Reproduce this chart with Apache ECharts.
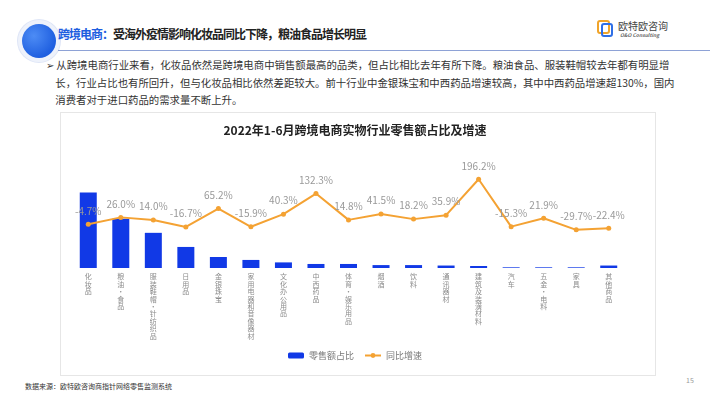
<!DOCTYPE html>
<html>
<head>
<meta charset="utf-8">
<script src="https://cdn.jsdelivr.net/npm/echarts@6/dist/echarts.min.js"></script>
<style>
  html, body { margin: 0; padding: 0; background: #fff; }
  body { width: 710px; height: 399px; position: relative; overflow: hidden; font-family: "Noto Sans CJK SC", "Noto Sans", sans-serif; }
  .abs { position: absolute; white-space: nowrap; }
  #ring { left: 18px; top: 20px; width: 42px; height: 42px; border-radius: 50%; background: #eef2fb; box-shadow: 0 0 0 1px #dfe6f7; }
  #dot { left: 22px; top: 24px; width: 34px; height: 34px; border-radius: 50%; background: radial-gradient(circle at 35% 35%, #4d8cf5, #1f5fe0 70%); }
  #rule { left: 58px; top: 50px; width: 652px; height: 1px; background: #8ea2d6; }
  #title { left: 58px; top: 25px; font-size: 12px; font-weight: bold; letter-spacing: -1px; color: #222; }
  #title span { color: #1e5ee0; }
  #logo-ic { left: 597px; top: 20px; width: 9px; height: 10px; border: 2px solid #f0a42a; border-radius: 3px; }
  #logo-ic2 { left: 601px; top: 23px; width: 8px; height: 10px; border: 2px solid #2f6fe6; border-radius: 3px; }
  #logo-t { left: 618px; top: 18px; font-size: 10px; color: #444; }
  #logo-s { left: 620px; top: 31px; font-size: 5px; color: #666; font-style: italic; font-weight: bold; }
  #para { left: 46px; top: 56px; width: 650px; font-size: 10.4px; line-height: 17.5px; color: #333; white-space: normal; }
  #box { left: 60px; top: 112px; width: 594px; height: 262px; border: 1px solid #e6e6e6; }
  #src { left: 25px; top: 381px; font-size: 7px; color: #333; }
  #pg { left: 686px; top: 375px; font-size: 7px; color: #999; }
  #chart { position: absolute; left: 0; top: 0; width: 710px; height: 399px; }
</style>
</head>
<body>
<div class="abs" id="box"></div>
<div class="abs" id="ring"></div>
<div class="abs" id="dot"></div>
<div class="abs" id="rule"></div>
<div class="abs" id="title"><span>跨境电商：</span>受海外疫情影响化妆品同比下降，粮油食品增长明显</div>
<div class="abs" id="logo-ic"></div>
<div class="abs" id="logo-ic2"></div>
<div class="abs" id="logo-t">欧特欧咨询</div>
<div class="abs" id="logo-s">O&amp;O Consulting</div>
<div class="abs" id="para">➢ 从跨境电商行业来看，化妆品依然是跨境电商中销售额最高的品类，但占比相比去年有所下降。粮油食品、服装鞋帽较去年都有明显增<br>&nbsp;&nbsp;&nbsp;&nbsp;长，行业占比也有所回升，但与化妆品相比依然差距较大。前十行业中金银珠宝和中西药品增速较高，其中中西药品增速超130%，国内<br>&nbsp;&nbsp;&nbsp;&nbsp;消费者对于进口药品的需求量不断上升。</div>
<div class="abs" id="src">数据来源：欧特欧咨询商指针网络零售监测系统</div>
<div class="abs" id="pg">15</div>
<div id="chart"></div>
<script>
const categories = ['化妆品', '粮油·食品', '服装鞋帽·针纺织品', '日用品', '金银珠宝', '家用电器和音像器材', '文化办公用品', '中西药品', '体育·娱乐用品', '烟酒', '饮料', '通讯器材', '建筑及装潢材料', '汽车', '五金·电料', '家具', '其他商品'];
const shareValues = [33.7, 22.0, 15.7, 9.4, 4.9, 3.6, 2.5, 1.8, 1.8, 1.3, 1.3, 1.1, 0.9, 0.3, 0.3, 0.3, 1.1];
const growthValues = [-4.7, 26.0, 14.0, -16.7, 65.2, -15.9, 40.3, 132.3, 14.8, 41.5, 18.2, 35.9, 196.2, -15.3, 21.9, -29.7, -22.4];
const seriesNames = ['零售额占比', '同比增速'];
const chartTitle = '2022年1-6月跨境电商实物行业零售额占比及增速';

const chart = echarts.init(document.getElementById('chart'));
const font = '"Noto Sans CJK SC", "Noto Sans", sans-serif';

chart.setOption({
  backgroundColor: 'transparent',
  textStyle: { fontFamily: font },
  title: {
    text: chartTitle,
    left: 'center',
    top: 119,
    textStyle: { fontSize: 12, fontWeight: 'bold', color: '#222', fontFamily: font }
  },
  legend: {
    data: seriesNames,
    left: 'center',
    top: 346,
    itemWidth: 16,
    itemHeight: 6,
    itemGap: 10,
    textStyle: { fontSize: 9, color: '#777', fontFamily: font }
  },
  grid: { left: 72, right: 85, top: 156, bottom: 131, containLabel: false },
  xAxis: {
    type: 'category',
    data: categories,
    axisLine: { show: false },
    axisTick: { show: false },
    axisLabel: {
      interval: 0,
      margin: 5,
      fontSize: 7,
      lineHeight: 7.4,
      color: '#8c8c8c',
      verticalAlign: 'top',
      formatter: v => v.split('').join('\n')
    }
  },
  yAxis: [
    { type: 'value', min: 0, max: 50, show: false },
    { type: 'value', min: -200, max: 300, show: false }
  ],
  series: [
    {
      name: seriesNames[0],
      type: 'bar',
      data: shareValues,
      barWidth: 17,
      itemStyle: { color: '#1139e6' }
    },
    {
      name: seriesNames[1],
      type: 'line',
      yAxisIndex: 1,
      data: growthValues,
      symbol: 'circle',
      symbolSize: 5,
      lineStyle: { color: '#f4a233', width: 2 },
      itemStyle: { color: '#f4a233' },
      label: {
        show: true,
        position: 'top',
        distance: 6,
        fontSize: 10,
        color: '#999',
        formatter: p => p.value.toFixed(1) + '%'
      }
    }
  ]
});
</script>
</body>
</html>
